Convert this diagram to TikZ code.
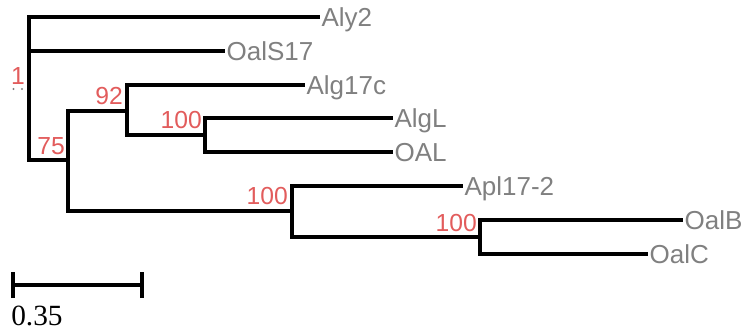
\documentclass[tikz,border=0pt]{standalone}
\usepackage{fontspec}
\setmainfont{Liberation Sans}
\newfontfamily\scalefont{Liberation Serif}
\definecolor{leafgray}{RGB}{128,128,128}
\definecolor{suppred}{RGB}{226,92,92}
\begin{document}
\begin{tikzpicture}[x=0.75pt,y=-0.75pt,
  branch/.style={draw=black,line width=2.4pt},
  leaf/.style={anchor=west,text=leafgray,inner xsep=1pt,inner ysep=0pt,
    font=\fontsize{19.5}{22}\selectfont,text height=13.9pt,text depth=0pt},
  support/.style={anchor=east,text=suppred,inner sep=0pt,
    font=\fontsize{18.5}{21}\selectfont,text height=13.2pt,text depth=0pt}]
\useasboundingbox (0,0) rectangle (747,333);

% internal nodes (x = depth, y = attachment height)
\coordinate (root) at (29,51);
\coordinate (n75)  at (68,160);
\coordinate (n92)  at (127,111);
\coordinate (nA)   at (205,135);
\coordinate (nB)   at (292,211);
\coordinate (nC)   at (480,237);

% leaves
\node[leaf] (aly2)   at (320,17)  {Aly2};
\node[leaf] (oals17) at (225,51)  {OalS17};
\node[leaf] (alg17c) at (305,85)  {Alg17c};
\node[leaf] (algl)   at (393,118) {AlgL};
\node[leaf] (oal)    at (393,152) {OAL};
\node[leaf] (apl)    at (463,186) {Apl17-2};
\node[leaf] (oalb)   at (683,220) {OalB};
\node[leaf] (oalc)   at (648,254) {OalC};

% branches
\draw[branch] (root) |- (aly2.west);
\draw[branch] (root) |- (oals17.west);
\draw[branch] (root) |- (n75);
\draw[branch] (n75) |- (n92);
\draw[branch] (n75) |- (nB);
\draw[branch] (n92) |- (alg17c.west);
\draw[branch] (n92) |- (nA);
\draw[branch] (nA) |- (algl.west);
\draw[branch] (nA) |- (oal.west);
\draw[branch] (nB) |- (apl.west);
\draw[branch] (nB) |- (nC);
\draw[branch] (nC) |- (oalb.west);
\draw[branch] (nC) |- (oalc.west);

% support values
\node[support] (s1)   at (25,76)   {1};
\node[support] (s92)  at (123,96)  {92};
\node[support] (s75)  at (65,146)  {75};
\node[support] (sA)   at (202,120) {100};
\node[support] (sB)   at (288,196) {100};
\node[support] (sC)   at (477,223) {100};
\fill[leafgray] (13.5,89) circle (1.1) (22,89) circle (1.1);

% scale bar
\coordinate (sb0) at (13,285);
\coordinate (sb1) at (142,285);
\draw[branch] (sb0) -- (sb1);
\draw[branch] ([yshift=-13*0.75pt]sb0) -- ([yshift=13*0.75pt]sb0);
\draw[branch] ([yshift=-13*0.75pt]sb1) -- ([yshift=13*0.75pt]sb1);
\node[anchor=base west,inner sep=0pt,font=\scalefont\fontsize{22}{24}\selectfont] (sblabel) at (11,325) {0.35};
\end{tikzpicture}
\end{document}
